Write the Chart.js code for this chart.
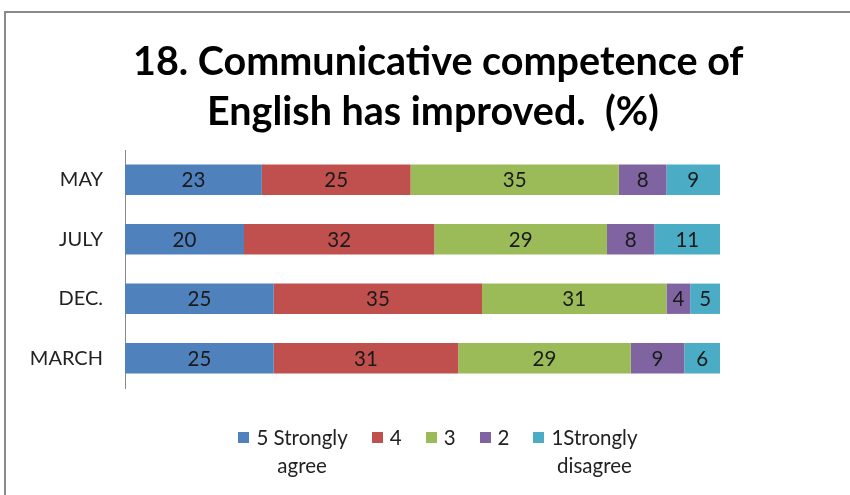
<!DOCTYPE html>
<html>
<head>
<meta charset="utf-8">
<script src="https://cdn.jsdelivr.net/npm/chart.js@4.4.1/dist/chart.umd.min.js"></script>
<style>
  html, body { margin: 0; padding: 0; background: #fff; overflow: hidden; }
  #wrap { position: relative; width: 850px; height: 495px; }
  #frame { position: absolute; left: 4px; top: 11px; width: 900px; height: 600px; border: 2px solid #8a8a8a; box-sizing: border-box; }
  canvas { position: absolute; left: 0; top: 0; }
  #title { position: absolute; top: 35px; left: 133px; width: 600px; text-align: center; font-family: Lato, "Open Sans", sans-serif; font-weight: bold; font-size: 39.5px; line-height: 50px; color: #000; white-space: pre; }
  #legend { position: absolute; top: 423px; left: 0; width: 876px; display: flex; justify-content: center; font-family: Lato, "Open Sans", sans-serif; font-size: 20.5px; color: #222; }
  .item { display: flex; align-items: flex-start; margin: 0 12px; }
  .box { width: 11px; height: 11px; margin: 9px 7px 0 0; flex: none; }
  .txt { text-align: center; line-height: 28px; }
</style>
</head>
<body>
<div id="wrap">
  <div id="frame"></div>
  <canvas id="chart" width="850" height="495"></canvas>
  <div id="title"></div>
  <div id="legend"></div>
</div>
<script>
// Dữ liệu biểu đồ
var titleLines = ["18. Communicative competence of", "English has improved.  (%)"];
var months = ["MAY", "JULY", "DEC.", "MARCH"];
var seriesNames = ["5 Strongly agree", "4", "3", "2", "1Strongly disagree"];
var legendLines = [["5 Strongly", "agree"], ["4"], ["3"], ["2"], ["1Strongly", "disagree"]];
var agree5 = [23, 20, 25, 25];
var score4 = [25, 32, 35, 31];
var score3 = [35, 29, 31, 29];
var score2 = [8, 8, 4, 9];
var disagree1 = [9, 11, 5, 6];
var colors = ["#4F81BD", "#C0504D", "#9BBB59", "#8064A2", "#4BACC6"];

var values = [agree5, score4, score3, score2, disagree1];

// Plugin vẽ số liệu giữa mỗi đoạn
var segmentLabels = {
    id: "segmentLabels",
    afterDatasetsDraw: function (chart) {
        var ctx = chart.ctx;
        ctx.save();
        ctx.font = "20.5px Lato, 'Open Sans', sans-serif";
        ctx.fillStyle = "#1a1a1a";
        ctx.textAlign = "center";
        ctx.textBaseline = "middle";
        chart.data.datasets.forEach(function (ds, i) {
            chart.getDatasetMeta(i).data.forEach(function (bar, j) {
                var cx = (bar.x + bar.base) / 2;
                ctx.fillText(String(ds.data[j]), cx, bar.y + 1);
            });
        });
        ctx.restore();
    }
};

var ctx = document.getElementById("chart").getContext("2d");
var myChart = new Chart(ctx, {
    type: "bar",
    data: {
        labels: months,
        datasets: seriesNames.map(function (name, i) {
            return {
                label: name,
                data: values[i],
                backgroundColor: colors[i],
                borderWidth: 0,
                categoryPercentage: 1,
                barPercentage: 0.51
            };
        })
    },
    options: {
        indexAxis: "y",
        responsive: false,
        animation: false,
        layout: { padding: { left: 0, right: 130, top: 150, bottom: 107 } },
        plugins: {
            legend: { display: false },
            tooltip: { enabled: false },
            title: { display: false }
        },
        scales: {
            x: {
                stacked: true,
                min: 0,
                max: 100,
                display: false
            },
            y: {
                stacked: true,
                grid: { display: false, drawTicks: false },
                border: { display: true, color: "#888", width: 1 },
                ticks: {
                    color: "#222",
                    padding: 22,
                    font: { family: "Lato, 'Open Sans', sans-serif", size: 20 }
                },
                afterFit: function (scale) { scale.width = 125; }
            }
        }
    },
    plugins: [segmentLabels]
});

// Tiêu đề dạng HTML (căn giữa như hình gốc)
document.getElementById("title").textContent = titleLines.join("\n");

// Chú thích dạng HTML (nhãn xuống dòng)
var legend = document.getElementById("legend");
seriesNames.forEach(function (name, i) {
    var item = document.createElement("div");
    item.className = "item";
    var box = document.createElement("span");
    box.className = "box";
    box.style.background = colors[i];
    var txt = document.createElement("div");
    txt.className = "txt";
    txt.innerHTML = legendLines[i].join("<br>");
    item.appendChild(box);
    item.appendChild(txt);
    legend.appendChild(item);
});
</script>
</body>
</html>
